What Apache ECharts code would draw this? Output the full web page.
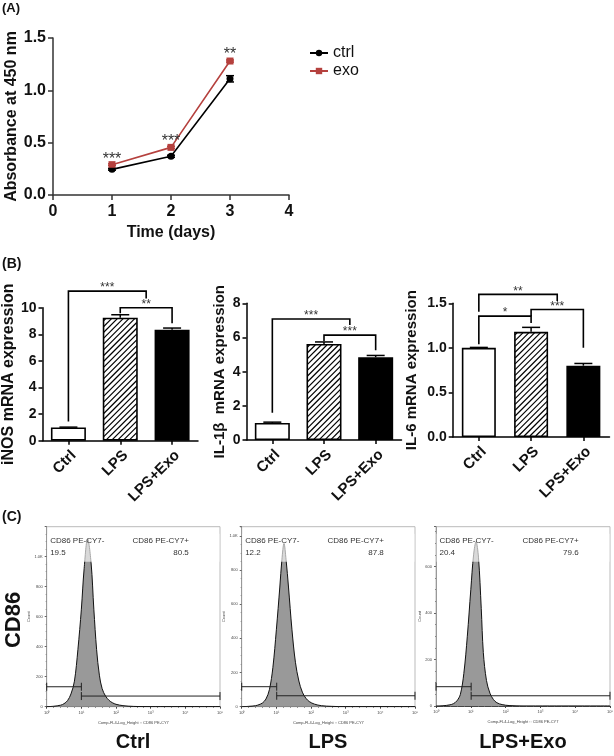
<!DOCTYPE html>
<html><head><meta charset="utf-8">
<script src="https://cdn.jsdelivr.net/npm/echarts@6/dist/echarts.min.js"></script>
<style>html,body{margin:0;padding:0;background:#fff}#c{width:614px;height:756px}</style>
</head><body><div id="c"></div>
<script>
// ---------- Panel A data ----------
const days = [1, 2, 3];
const ctrlMean = [0.245, 0.37, 1.11];
const ctrlSem = [0.008, 0.01, 0.03];
const exoMean = [0.29, 0.455, 1.28];
const exoSem = [0.008, 0.01, 0.01];
const absStars = ['***', '***', '**'];
const absStarY = [0.38, 0.55, 1.375];

// ---------- Panel B data ----------
const groups = ['Ctrl', 'LPS', 'LPS+Exo'];
const inosMean = [1.0, 9.25, 8.35];
const inosSem = [0.02, 0.22, 0.12];
const il1bMean = [1.0, 5.62, 4.85];
const il1bSem = [0.05, 0.12, 0.1];
const il6Mean = [1.0, 1.18, 0.80];
const il6Sem = [0.005, 0.05, 0.025];
// brackets: [fromIndex, toIndex, level, leftEnd, rightEnd, label]
const inosBr = [[0, 1.5, 11.25, 1.45, 10.7, '***'], [1, 2, 10.0, 9.58, 8.83, '**']];
const il1bBr = [[0, 1.5, 7.08, 1.6, 6.73, '***'], [1, 2, 6.14, 5.8, 5.26, '***']];
const il6Br = [[0, 1.5, 1.60, 1.405, 1.525, '**'], [0, 1, 1.356, 1.04, 1.28, '*'], [1, 2, 1.43, 1.356, 1.0, '***']];

// ---------- Panel C data (x = log10 fluorescence) ----------
const flowNames = ['Ctrl', 'LPS', 'LPS+Exo'];
const gateNames = ['CD86 PE-CY7-', 'CD86 PE-CY7+'];
const ctrlHistX = [0, 0.2, 0.4, 0.5, 0.6, 0.7, 0.8, 0.9, 1.0, 1.08, 1.18, 1.28, 1.36, 1.44, 1.52, 1.6, 1.7, 1.8, 1.9, 2.0, 2.2, 2.5, 3.0, 5.0];
const ctrlHistY = [0, 3, 10, 20, 40, 85, 170, 380, 650, 920, 1120, 960, 650, 380, 210, 120, 70, 42, 26, 16, 7, 2, 0, 0];
const lpsHistX = [0, 0.2, 0.4, 0.5, 0.6, 0.7, 0.8, 0.9, 1.0, 1.1, 1.16, 1.22, 1.28, 1.35, 1.45, 1.55, 1.65, 1.75, 1.85, 1.95, 2.1, 2.3, 2.6, 3.0, 5.0];
const lpsHistY = [0, 2, 6, 12, 22, 45, 100, 230, 450, 700, 860, 955, 860, 700, 450, 260, 150, 85, 50, 30, 15, 6, 2, 0, 0];
const exoHistX = [0, 0.2, 0.4, 0.5, 0.6, 0.7, 0.8, 0.9, 1.0, 1.08, 1.15, 1.22, 1.3, 1.36, 1.45, 1.55, 1.65, 1.75, 1.9, 2.1, 2.5, 5.0];
const exoHistY = [0, 1, 5, 10, 22, 50, 140, 300, 500, 650, 706, 640, 420, 230, 110, 55, 28, 14, 6, 2, 0, 0];
const flowPct = [['19.5', '80.5'], ['12.2', '87.8'], ['20.4', '79.6']];
// gates: [xFrom, xTo, countLevel]
const flowGates = [
  [[0, 1.0, 133], [1.0, 5, 71]],
  [[0, 1.01, 117], [1.01, 5, 64]],
  [[0, 1.01, 83], [1.01, 5, 44]]
];
const flowYMax = [1200, 1053, 771];

// ---------- helpers ----------
const FF = 'Liberation Sans, Arial, Helvetica, sans-serif';
const EXO_COLOR = '#b5413e';
const sup = ['⁰','¹','²','³','⁴','⁵'];

function errSeries(xi, means, sems, xs, capW, both, color) {
  return {
    type: 'custom', xAxisIndex: xi, yAxisIndex: xi, z: 5, clip: false, silent: true,
    data: means.map((m, i) => [xs[i], m, sems[i]]),
    renderItem(params, api) {
      const x = api.value(0), m = api.value(1), e = api.value(2);
      const pTop = api.coord([x, m + e]);
      const pBot = api.coord([x, both ? m - e : m]);
      const st = { stroke: color || '#000', lineWidth: 1.5 };
      const ch = [
        { type: 'line', shape: { x1: pTop[0], y1: pTop[1], x2: pBot[0], y2: pBot[1] }, style: st },
        { type: 'line', shape: { x1: pTop[0] - capW / 2, y1: pTop[1], x2: pTop[0] + capW / 2, y2: pTop[1] }, style: st }
      ];
      if (both) ch.push({ type: 'line', shape: { x1: pBot[0] - capW / 2, y1: pBot[1], x2: pBot[0] + capW / 2, y2: pBot[1] }, style: st });
      return { type: 'group', children: ch };
    }
  };
}

function bracketSeries(xi, brackets) {
  return {
    type: 'custom', xAxisIndex: xi, yAxisIndex: xi, z: 6, clip: false, silent: true,
    data: brackets.map(b => [0, b[2]]),
    renderItem(params, api) {
      const b = brackets[params.dataIndex];
      const c0 = api.coord([0, 0]), c1 = api.coord([1, 0]);
      const step = c1[0] - c0[0];
      const X = v => c0[0] + v * step;
      const Y = v => api.coord([0, v])[1];
      const st = { stroke: '#000', lineWidth: 1.6 };
      const xa = X(b[0]), xb = X(b[1]), yl = Y(b[2]);
      return {
        type: 'group', children: [
          { type: 'polyline', shape: { points: [[xa, Y(b[3])], [xa, yl], [xb, yl], [xb, Y(b[4])]] }, style: Object.assign({ fill: null }, st) },
          { type: 'text', style: { text: b[5], x: (xa + xb) / 2, y: yl - 3, align: 'center', verticalAlign: 'middle', font: '12px ' + FF, fill: '#333' } }
        ]
      };
    }
  };
}

function barAxisY(gi, max, interval, name, gap, nameSize, fmt) {
  return {
    type: 'value', gridIndex: gi, min: 0, max: max, interval: interval,
    name: name, nameLocation: 'middle', nameGap: gap,
    nameTextStyle: { fontFamily: FF, fontWeight: 'bold', fontSize: nameSize, color: '#111' },
    axisLine: { show: true, lineStyle: { color: '#000', width: 1.5 } },
    axisTick: { show: true, length: 4, lineStyle: { color: '#000', width: 1.5 } },
    axisLabel: { margin: 6, fontFamily: FF, fontWeight: 'bold', fontSize: 14, color: '#111', formatter: fmt },
    splitLine: { show: false }
  };
}
function barAxisX(gi) {
  return {
    type: 'category', gridIndex: gi, data: groups,
    axisLine: { show: true, lineStyle: { color: '#000', width: 1.5 } },
    axisTick: { show: true, alignWithLabel: true, length: 4, lineStyle: { color: '#000', width: 1.5 } },
    axisLabel: { rotate: 45, margin: 7, interval: 0, verticalAlign: 'top', fontFamily: FF, fontWeight: 'bold', fontSize: 15, color: '#111' },
    splitLine: { show: false }
  };
}
const barStyles = [
  { color: '#fff', borderColor: '#000', borderWidth: 1.6 },
  { color: '#fff', borderColor: '#000', borderWidth: 1.6 },
  { color: '#000', borderColor: '#000', borderWidth: 1.6 }
];
function barSeries(xi, vals, w) {
  return {
    type: 'bar', xAxisIndex: xi, yAxisIndex: xi, barWidth: w, z: 3, silent: true,
    data: vals.map((v, i) => ({ value: v, itemStyle: barStyles[i] }))
  };
}
// diagonal "/" hatching inside the LPS bar, positioned through the axes
function hatchSeries(xi, vals, idx, w) {
  return {
    type: 'custom', xAxisIndex: xi, yAxisIndex: xi, z: 4, clip: false, silent: true,
    data: [[idx, vals[idx]]],
    renderItem(params, api) {
      const i = api.value(0), v = api.value(1);
      const pb = api.coord([i, 0]), pt = api.coord([i, v]);
      const inset = 1;
      const xl = pb[0] - w / 2 + inset, xr = pb[0] + w / 2 - inset, yt = pt[1] + inset, yb = pb[1] - inset;
      const s = 5.8, lines = [];
      for (let c = xl + yt + 2; c < xr + yb; c += s) {
        const x1 = Math.max(xl, c - yb), x2 = Math.min(xr, c - yt);
        if (x2 > x1) lines.push({ type: 'line', shape: { x1: x1, y1: c - x1, x2: x2, y2: c - x2 }, style: { stroke: '#000', lineWidth: 1.2 } });
      }
      return { type: 'group', children: lines };
    }
  };
}

function flowXAxis(gi) {
  return {
    type: 'value', gridIndex: gi, min: 0, max: 5, interval: 1,
    name: 'Comp-FL4-Log_Height :: CD86 PE-CY7', nameLocation: 'middle', nameGap: 14,
    nameTextStyle: { fontFamily: FF, fontSize: 4, color: '#444' },
    axisLine: { show: true, lineStyle: { color: '#444', width: 1 } },
    axisTick: { show: true, length: 2, lineStyle: { color: '#444' } },
    minorTick: { show: true, splitNumber: 5, length: 1, lineStyle: { color: '#666' } },
    axisLabel: { margin: 4, fontFamily: FF, fontSize: 4, color: '#444', formatter: v => '10' + sup[v] },
    splitLine: { show: false }, minorSplitLine: { show: false }
  };
}
function flowYAxis(gi, max) {
  return {
    type: 'value', gridIndex: gi, min: 0, max: max, interval: 200,
    name: 'Count', nameLocation: 'middle', nameGap: 11,
    nameTextStyle: { fontFamily: FF, fontSize: 4, color: '#444' },
    axisLine: { show: true, lineStyle: { color: '#999', width: 1 } },
    axisTick: { show: true, length: 2, lineStyle: { color: '#666' } },
    minorTick: { show: true, splitNumber: 4, length: 1, lineStyle: { color: '#888' } },
    axisLabel: { margin: 4, fontFamily: FF, fontSize: 4, color: '#444', showMaxLabel: false,
      formatter: v => v >= 1000 ? (v / 1000).toFixed(1) + 'K' : String(v) },
    splitLine: { show: false }, minorSplitLine: { show: false }
  };
}
function flowHist(gi, xs, ys) {
  return {
    type: 'line', xAxisIndex: gi, yAxisIndex: gi, z: 2, silent: true, symbol: 'none', smooth: 0.35,
    lineStyle: { color: '#111', width: 1 },
    areaStyle: { color: '#999', opacity: 1 },
    data: xs.map((x, i) => [x, ys[i]])
  };
}
function flowOverlay(gi, pct, gates) {
  return {
    type: 'custom', xAxisIndex: gi, yAxisIndex: gi, z: 4, clip: false, silent: true,
    data: [[0, 0]],
    renderItem(params, api) {
      const cs = params.coordSys;
      const X = v => api.coord([v, 0])[0];
      const font = '8px ' + FF;
      const ch = [
        { type: 'rect', shape: { x: cs.x + 0.5, y: cs.y + 7, width: cs.width - 1, height: 28 }, style: { fill: 'rgba(255,255,255,0.63)' } },
        { type: 'text', style: { text: gateNames[0], x: X(0.1), y: cs.y + 14.5, align: 'left', verticalAlign: 'middle', font: font, fill: '#333' } },
        { type: 'text', style: { text: pct[0], x: X(0.1), y: cs.y + 26.5, align: 'left', verticalAlign: 'middle', font: font, fill: '#333' } },
        { type: 'text', style: { text: gateNames[1], x: X(4.1), y: cs.y + 14.5, align: 'right', verticalAlign: 'middle', font: font, fill: '#333' } },
        { type: 'text', style: { text: pct[1], x: X(4.1), y: cs.y + 26.5, align: 'right', verticalAlign: 'middle', font: font, fill: '#333' } }
      ];
      gates.forEach(g => {
        const a = api.coord([g[0], g[2]]), b = api.coord([g[1], g[2]]);
        const st = { stroke: '#222', lineWidth: 1 };
        ch.push({ type: 'line', shape: { x1: a[0], y1: a[1], x2: b[0], y2: b[1] }, style: st });
        ch.push({ type: 'line', shape: { x1: a[0], y1: a[1] - 4, x2: a[0], y2: a[1] + 4 }, style: st });
        ch.push({ type: 'line', shape: { x1: b[0], y1: b[1] - 4, x2: b[0], y2: b[1] + 4 }, style: st });
      });
      return { type: 'group', children: ch };
    }
  };
}

const chart = echarts.init(document.getElementById('c'), null, { renderer: 'canvas' });
const option = {
  animation: false,
  backgroundColor: '#fff',
  textStyle: { fontFamily: FF },
  grid: [
    { left: 53, top: 38, width: 236, height: 157, outerBoundsMode: 'none' },
    { left: 42.5, top: 307.7, width: 155.5, height: 133, outerBoundsMode: 'none' },
    { left: 246.5, top: 303.3, width: 155, height: 136.8, outerBoundsMode: 'none' },
    { left: 452.7, top: 303.3, width: 156.8, height: 133.7, outerBoundsMode: 'none' },
    { left: 46.7, top: 526.7, width: 173.3, height: 180, show: true, borderColor: '#bbb', borderWidth: 1, backgroundColor: 'transparent', outerBoundsMode: 'none' },
    { left: 241.7, top: 526.7, width: 173.3, height: 180, show: true, borderColor: '#bbb', borderWidth: 1, backgroundColor: 'transparent', outerBoundsMode: 'none' },
    { left: 436, top: 526.7, width: 174, height: 179.3, show: true, borderColor: '#bbb', borderWidth: 1, backgroundColor: 'transparent', outerBoundsMode: 'none' }
  ],
  legend: {
    data: ['ctrl', 'exo'], orient: 'vertical', left: 304, top: 40, itemWidth: 18, itemHeight: 8, itemGap: 2,
    textStyle: { fontFamily: FF, fontSize: 16, color: '#111' }
  },
  xAxis: [
    {
      type: 'value', gridIndex: 0, min: 0, max: 4, interval: 1,
      name: 'Time (days)', nameLocation: 'middle', nameGap: 30,
      nameTextStyle: { fontFamily: FF, fontWeight: 'bold', fontSize: 16, color: '#111' },
      axisLine: { show: true, lineStyle: { color: '#333', width: 1.5 } },
      axisTick: { show: true, length: 5, lineStyle: { color: '#333', width: 1.5 } },
      axisLabel: { margin: 9, fontFamily: FF, fontWeight: 'bold', fontSize: 16, color: '#111' },
      splitLine: { show: false }
    },
    barAxisX(1), barAxisX(2), barAxisX(3),
    flowXAxis(4), flowXAxis(5), flowXAxis(6)
  ],
  yAxis: [
    {
      type: 'value', gridIndex: 0, min: 0, max: 1.5, interval: 0.5,
      name: 'Absorbance at 450 nm', nameLocation: 'middle', nameGap: 33,
      nameTextStyle: { fontFamily: FF, fontWeight: 'bold', fontSize: 16, color: '#111' },
      axisLine: { show: true, lineStyle: { color: '#333', width: 1.5 } },
      axisTick: { show: true, length: 5, lineStyle: { color: '#333', width: 1.5 } },
      axisLabel: { margin: 7, fontFamily: FF, fontWeight: 'bold', fontSize: 16, color: '#111', formatter: v => v.toFixed(1) },
      splitLine: { show: false }
    },
    barAxisY(1, 10, 2, 'iNOS mRNA expression', 25, 16),
    barAxisY(2, 8, 2, 'IL-1β  mRNA expression', 19, 15),
    barAxisY(3, 1.5, 0.5, 'IL-6 mRNA expression', 33, 15, v => v.toFixed(1)),
    flowYAxis(4, flowYMax[0]), flowYAxis(5, flowYMax[1]), flowYAxis(6, flowYMax[2])
  ],
  series: [
    {
      name: 'ctrl', type: 'line', xAxisIndex: 0, yAxisIndex: 0, z: 4,
      symbol: 'circle', symbolSize: 7, color: '#000',
      lineStyle: { color: '#000', width: 1.6 }, itemStyle: { color: '#000' },
      data: days.map((d, i) => [d, ctrlMean[i]])
    },
    {
      name: 'exo', type: 'line', xAxisIndex: 0, yAxisIndex: 0, z: 4,
      symbol: 'rect', symbolSize: 7, color: EXO_COLOR,
      lineStyle: { color: EXO_COLOR, width: 1.6 }, itemStyle: { color: EXO_COLOR },
      data: days.map((d, i) => [d, exoMean[i]])
    },
    errSeries(0, ctrlMean, ctrlSem, days, 8, true, '#000'),
    errSeries(0, exoMean, exoSem, days, 8, true, EXO_COLOR),
    {
      type: 'custom', xAxisIndex: 0, yAxisIndex: 0, z: 6, clip: false, silent: true,
      data: days.map((d, i) => [d, absStarY[i]]),
      renderItem(params, api) {
        const p = api.coord([api.value(0), api.value(1)]);
        return { type: 'text', style: { text: absStars[params.dataIndex], x: p[0], y: p[1] + 4, align: 'center', verticalAlign: 'middle', font: '16px ' + FF, fill: '#333' } };
      }
    },
    barSeries(1, inosMean, 35), hatchSeries(1, inosMean, 1, 35), errSeries(1, inosMean, inosSem, [0, 1, 2], 18, false), bracketSeries(1, inosBr),
    barSeries(2, il1bMean, 35), hatchSeries(2, il1bMean, 1, 35), errSeries(2, il1bMean, il1bSem, [0, 1, 2], 18, false), bracketSeries(2, il1bBr),
    barSeries(3, il6Mean, 34), hatchSeries(3, il6Mean, 1, 34), errSeries(3, il6Mean, il6Sem, [0, 1, 2], 18, false), bracketSeries(3, il6Br),
    flowHist(4, ctrlHistX, ctrlHistY), flowOverlay(4, flowPct[0], flowGates[0]),
    flowHist(5, lpsHistX, lpsHistY), flowOverlay(5, flowPct[1], flowGates[1]),
    flowHist(6, exoHistX, exoHistY), flowOverlay(6, flowPct[2], flowGates[2])
  ],
  graphic: [
    { type: 'text', left: 2, top: 2, style: { text: '(A)', font: 'bold 13px ' + FF, fill: '#111' } },
    { type: 'text', left: 2, top: 257, style: { text: '(B)', font: 'bold 14px ' + FF, fill: '#111' } },
    { type: 'text', left: 2, top: 510, style: { text: '(C)', font: 'bold 14px ' + FF, fill: '#111' } },
    { type: 'text', x: 14, y: 620, rotation: Math.PI / 2, style: { text: 'CD86', font: 'bold 22px ' + FF, fill: '#111', align: 'center', verticalAlign: 'middle' } },
    { type: 'text', x: 133, y: 742, style: { text: flowNames[0], font: 'bold 20px ' + FF, fill: '#111', align: 'center', verticalAlign: 'middle' } },
    { type: 'text', x: 328, y: 742, style: { text: flowNames[1], font: 'bold 20px ' + FF, fill: '#111', align: 'center', verticalAlign: 'middle' } },
    { type: 'text', x: 523, y: 742, style: { text: flowNames[2], font: 'bold 20px ' + FF, fill: '#111', align: 'center', verticalAlign: 'middle' } }
  ]
};
chart.setOption(option);
</script></body></html>
